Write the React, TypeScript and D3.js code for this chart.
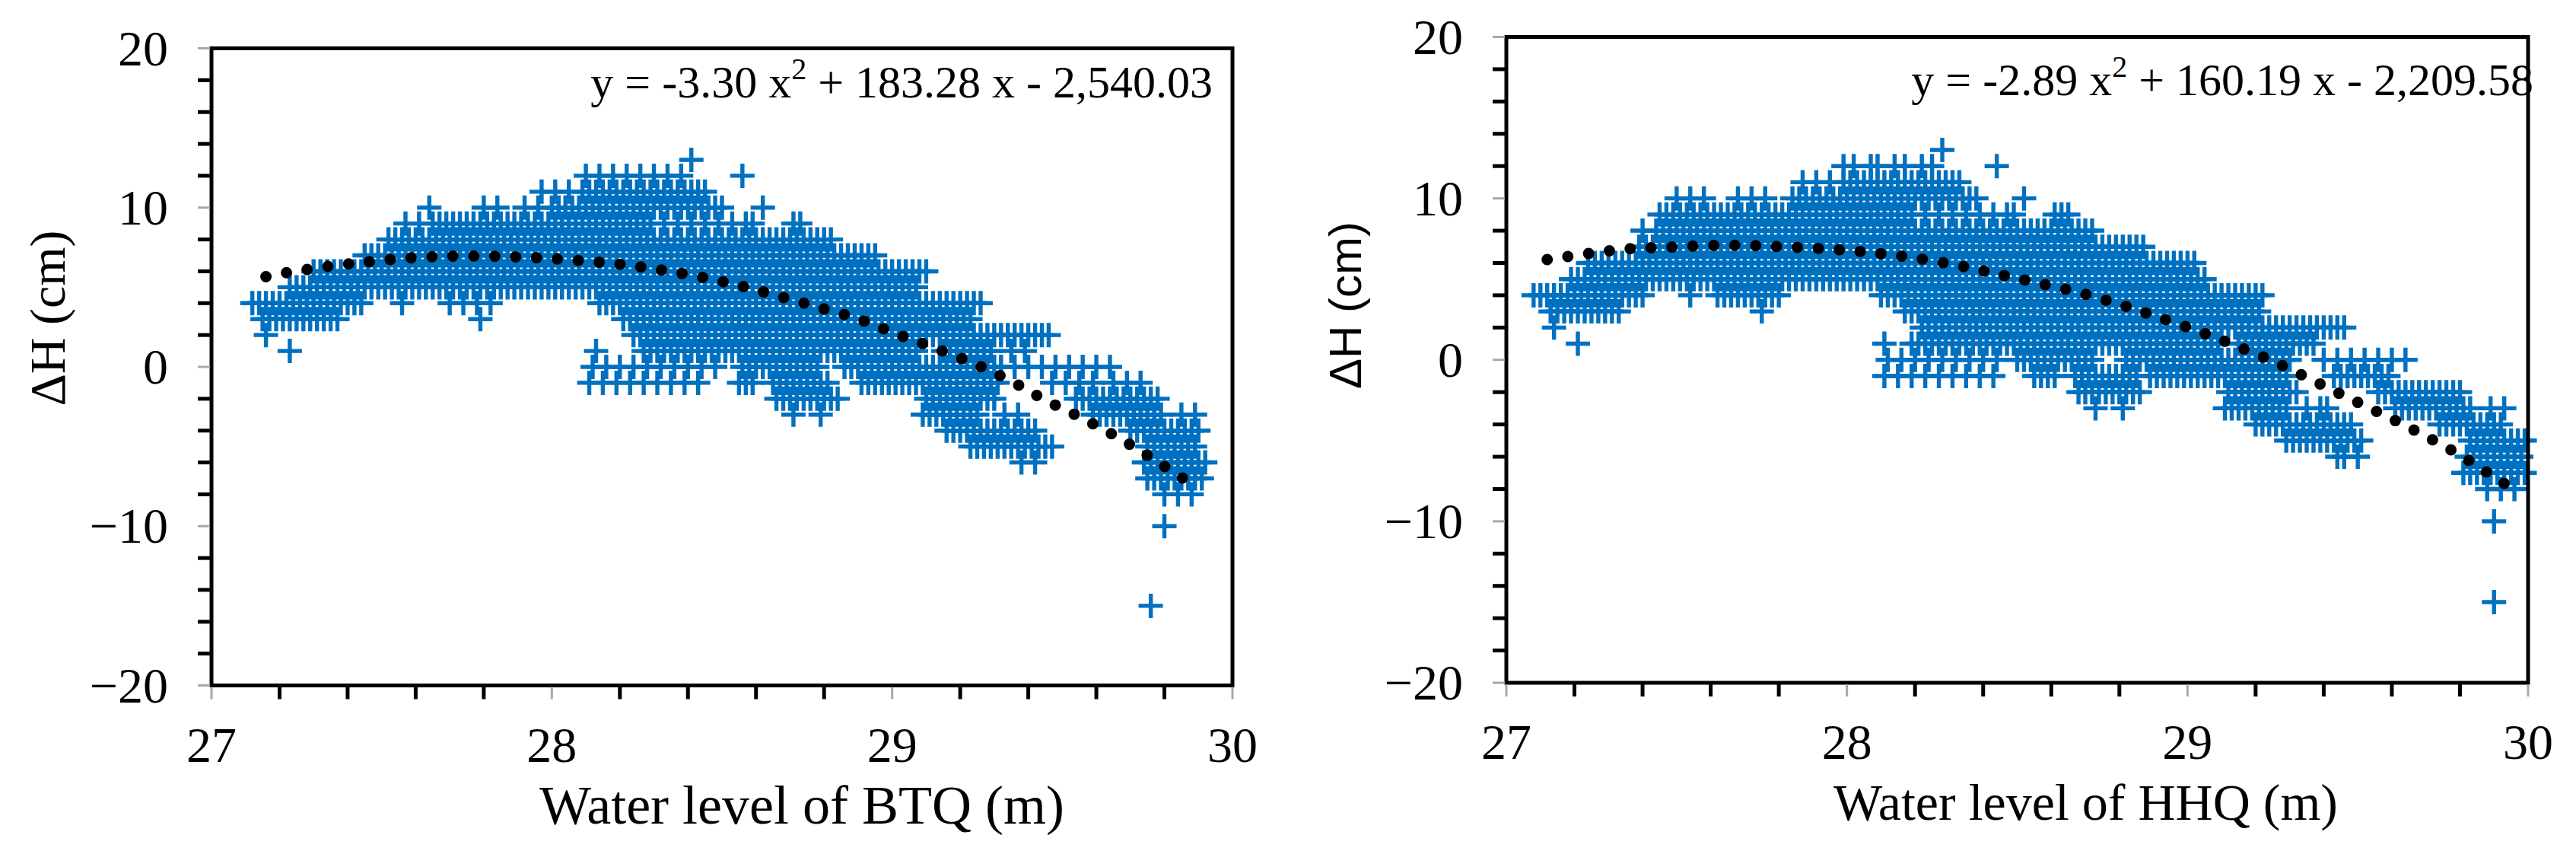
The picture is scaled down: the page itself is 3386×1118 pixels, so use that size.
import React from "react";
import * as d3 from "d3";

const BLUE = "#0070C0";
const SERIF = "'Liberation Serif', 'Times New Roman', serif";
const SANS = "'Liberation Sans', Arial, sans-serif";

// Scatter rows: [ΔH (cm), water levels in hundredths of a metre above 27 m]
const btqRows: [number, number[]][] = [
  [13, [141]],
  [12, [110, 114, 118, 122, 126, 130, 134, 138, 156]],
  [11, [97, 101, 105, 109, 111, 113, 115, 117, 119, 121, 123, 125, 127, 129, 131, 133, 135, 137, 139, 141, 143, 145]],
  [10, [64, 80, 84, 92, 96, 100, 102, 104, 106, 108, 110, 112, 114, 116, 118, 120, 122, 124, 126, 128, 130, 132, 134, 136, 138, 140, 142, 144, 146, 148, 150, 162]],
  [9, [57, 61, 65, 67, 69, 71, 73, 75, 77, 79, 81, 83, 85, 87, 89, 91, 93, 95, 97, 99, 101, 103, 105, 107, 109, 111, 113, 115, 117, 119, 121, 123, 125, 127, 129, 133, 137, 141, 145, 149, 153, 157, 159, 171, 173]],
  [8, [52, 54, 56, 58, 60, 62, 64, 66, 68, 70, 72, 74, 76, 78, 80, 82, 84, 86, 88, 90, 92, 94, 96, 98, 100, 102, 104, 106, 108, 110, 112, 114, 116, 118, 120, 122, 124, 126, 128, 130, 132, 134, 136, 138, 140, 142, 144, 146, 148, 150, 152, 154, 156, 158, 160, 162, 164, 166, 168, 170, 172, 174, 176, 178, 180, 182]],
  [7, [45, 47, 49, 51, 53, 55, 57, 59, 61, 63, 65, 67, 69, 71, 73, 75, 77, 79, 81, 83, 85, 87, 89, 91, 93, 95, 97, 99, 101, 103, 105, 107, 109, 111, 113, 115, 117, 119, 121, 123, 125, 127, 129, 131, 133, 135, 137, 139, 141, 143, 145, 147, 149, 151, 153, 155, 157, 159, 161, 163, 165, 167, 169, 171, 173, 175, 177, 179, 181, 183, 185, 187, 189, 191, 193, 195]],
  [6, [30, 32, 34, 36, 38, 40, 42, 44, 46, 48, 50, 52, 54, 56, 58, 60, 62, 64, 66, 68, 70, 72, 74, 76, 78, 80, 82, 84, 86, 88, 90, 92, 94, 96, 98, 100, 102, 104, 106, 108, 110, 112, 114, 116, 118, 120, 122, 124, 126, 128, 130, 132, 134, 136, 138, 140, 142, 144, 146, 148, 150, 152, 154, 156, 158, 160, 162, 164, 166, 168, 170, 172, 174, 176, 178, 180, 182, 184, 186, 188, 190, 192, 194, 196, 198, 200, 202, 204, 206, 208, 210]],
  [5, [23, 25, 27, 29, 31, 33, 35, 37, 39, 41, 43, 45, 47, 49, 51, 53, 55, 57, 59, 61, 63, 65, 67, 69, 71, 73, 75, 77, 79, 81, 83, 85, 87, 89, 91, 93, 95, 97, 99, 101, 103, 105, 107, 109, 111, 113, 115, 117, 119, 121, 123, 125, 127, 129, 131, 133, 135, 137, 139, 141, 143, 145, 147, 149, 151, 153, 155, 157, 159, 161, 163, 165, 167, 169, 171, 173, 175, 177, 179, 181, 183, 185, 187, 189, 191, 193, 195, 197, 199, 201, 203, 205, 207]],
  [4, [12, 14, 16, 18, 20, 22, 24, 26, 28, 30, 32, 34, 36, 38, 40, 42, 44, 56, 70, 74, 78, 82, 114, 116, 118, 120, 122, 124, 126, 128, 130, 132, 134, 136, 138, 140, 142, 144, 146, 148, 150, 152, 154, 156, 158, 160, 162, 164, 166, 168, 170, 172, 174, 176, 178, 180, 182, 184, 186, 188, 190, 192, 194, 196, 198, 200, 202, 204, 206, 208, 210, 212, 214, 216, 218, 220, 222, 224, 226]],
  [3, [15, 17, 19, 21, 23, 25, 27, 29, 31, 33, 35, 37, 79, 121, 123, 125, 127, 129, 131, 133, 135, 137, 139, 141, 143, 145, 147, 149, 151, 153, 155, 157, 159, 161, 163, 165, 167, 169, 171, 173, 175, 177, 179, 181, 183, 185, 187, 189, 191, 193, 195, 197, 199, 201, 203, 205, 207, 209, 211, 213, 215, 217, 219, 221, 223]],
  [2, [16, 124, 126, 128, 130, 132, 134, 136, 138, 140, 142, 144, 146, 148, 150, 152, 154, 156, 158, 160, 162, 164, 166, 168, 170, 172, 174, 176, 178, 180, 182, 184, 186, 188, 190, 192, 194, 196, 198, 200, 202, 204, 206, 208, 210, 212, 214, 216, 218, 220, 222, 224, 226, 228, 230, 232, 234, 236, 238, 240, 242, 244, 246]],
  [1, [23, 113, 127, 129, 131, 133, 135, 137, 139, 141, 143, 145, 147, 149, 151, 153, 155, 157, 159, 161, 163, 165, 167, 169, 171, 173, 175, 177, 179, 181, 183, 185, 187, 189, 191, 193, 195, 197, 199, 201, 203, 205, 207, 215, 217, 219, 221, 223, 225, 227, 229, 235, 239]],
  [0, [112, 116, 120, 124, 128, 132, 136, 140, 144, 148, 156, 158, 160, 162, 164, 166, 168, 170, 172, 174, 176, 178, 186, 188, 190, 192, 194, 196, 198, 200, 202, 204, 206, 208, 210, 212, 214, 216, 218, 220, 222, 224, 226, 228, 230, 232, 236, 240, 244, 248, 252, 256, 260, 264]],
  [-1, [111, 115, 119, 123, 127, 131, 135, 139, 143, 155, 157, 159, 165, 167, 169, 171, 173, 175, 177, 179, 181, 191, 193, 195, 197, 199, 201, 203, 205, 207, 209, 211, 213, 215, 217, 219, 221, 223, 225, 227, 229, 231, 247, 251, 255, 259, 265, 269, 273]],
  [-2, [166, 168, 170, 172, 174, 176, 178, 180, 182, 184, 210, 212, 214, 216, 218, 220, 222, 224, 226, 228, 230, 254, 256, 258, 260, 262, 264, 266, 268, 270, 272, 274, 276, 278]],
  [-3, [171, 179, 209, 211, 213, 215, 217, 219, 221, 223, 225, 233, 237, 259, 261, 263, 265, 267, 269, 271, 273, 275, 277, 279, 285, 289]],
  [-4, [216, 218, 220, 222, 224, 226, 228, 230, 232, 234, 236, 238, 240, 242, 270, 272, 274, 276, 278, 280, 282, 284, 286, 288, 290]],
  [-5, [223, 225, 227, 229, 231, 233, 235, 237, 239, 241, 243, 245, 247, 275, 277, 279, 281, 283, 285, 287, 289]],
  [-6, [238, 242, 274, 276, 278, 280, 282, 284, 286, 288, 290, 292]],
  [-7, [275, 277, 279, 281, 283, 285, 287, 289, 291]],
  [-8, [280, 284, 288]],
  [-10, [280]],
  [-15, [276]],
];

const hhqRows: [number, number[]][] = [
  [13, [128]],
  [12, [99, 102, 107, 109, 114, 117, 122, 125, 144]],
  [11, [87, 91, 95, 99, 101, 103, 105, 107, 109, 111, 113, 115, 117, 119, 121, 123, 125, 127, 129, 131, 133]],
  [10, [50, 54, 58, 68, 72, 76, 84, 86, 88, 90, 92, 94, 96, 98, 100, 102, 104, 106, 108, 110, 112, 114, 116, 118, 120, 122, 124, 126, 128, 130, 132, 134, 136, 138, 152]],
  [9, [45, 47, 49, 51, 53, 55, 57, 59, 61, 63, 65, 67, 69, 71, 73, 75, 77, 79, 81, 83, 85, 87, 89, 91, 93, 95, 97, 99, 101, 103, 105, 107, 109, 111, 113, 115, 117, 119, 123, 127, 131, 135, 139, 143, 147, 149, 161, 163, 165]],
  [8, [40, 44, 46, 48, 50, 52, 54, 56, 58, 60, 62, 64, 66, 68, 70, 72, 74, 76, 78, 80, 82, 84, 86, 88, 90, 92, 94, 96, 98, 100, 102, 104, 106, 108, 110, 112, 114, 116, 118, 120, 122, 124, 126, 128, 130, 132, 134, 136, 138, 140, 142, 144, 146, 148, 150, 152, 154, 156, 158, 160, 162, 164, 166, 168, 170, 172]],
  [7, [39, 41, 43, 45, 47, 49, 51, 53, 55, 57, 59, 61, 63, 65, 67, 69, 71, 73, 75, 77, 79, 81, 83, 85, 87, 89, 91, 93, 95, 97, 99, 101, 103, 105, 107, 109, 111, 113, 115, 117, 119, 121, 123, 125, 127, 129, 131, 133, 135, 137, 139, 141, 143, 145, 147, 149, 151, 153, 155, 157, 159, 161, 163, 165, 167, 169, 171, 173, 175, 177, 179, 181, 183, 185, 187]],
  [6, [24, 26, 28, 30, 32, 34, 36, 38, 40, 42, 44, 46, 48, 50, 52, 54, 56, 58, 60, 62, 64, 66, 68, 70, 72, 74, 76, 78, 80, 82, 84, 86, 88, 90, 92, 94, 96, 98, 100, 102, 104, 106, 108, 110, 112, 114, 116, 118, 120, 122, 124, 126, 128, 130, 132, 134, 136, 138, 140, 142, 144, 146, 148, 150, 152, 154, 156, 158, 160, 162, 164, 166, 168, 170, 172, 174, 176, 178, 180, 182, 184, 186, 188, 190, 192, 194, 196, 198, 200, 202]],
  [5, [19, 21, 23, 25, 27, 29, 31, 33, 35, 37, 39, 41, 43, 45, 47, 49, 51, 53, 55, 57, 59, 61, 63, 65, 67, 69, 71, 73, 75, 77, 79, 81, 83, 85, 87, 89, 91, 93, 95, 97, 99, 101, 103, 105, 107, 109, 111, 113, 115, 117, 119, 121, 123, 125, 127, 129, 131, 133, 135, 137, 139, 141, 143, 145, 147, 149, 151, 153, 155, 157, 159, 161, 163, 165, 167, 169, 171, 173, 175, 177, 179, 181, 183, 185, 187, 189, 191, 193, 195, 197, 199, 201, 203, 205]],
  [4, [8, 10, 12, 14, 16, 18, 20, 22, 24, 26, 28, 30, 32, 34, 36, 38, 40, 54, 62, 64, 66, 68, 70, 72, 74, 76, 78, 80, 110, 112, 114, 116, 118, 120, 122, 124, 126, 128, 130, 132, 134, 136, 138, 140, 142, 144, 146, 148, 150, 152, 154, 156, 158, 160, 162, 164, 166, 168, 170, 172, 174, 176, 178, 180, 182, 184, 186, 188, 190, 192, 194, 196, 198, 200, 202, 204, 206, 208, 210, 212, 214, 216, 218, 220, 222]],
  [3, [13, 15, 17, 19, 21, 23, 25, 27, 29, 31, 33, 75, 117, 119, 121, 123, 125, 127, 129, 131, 133, 135, 137, 139, 141, 143, 145, 147, 149, 151, 153, 155, 157, 159, 161, 163, 165, 167, 169, 171, 173, 175, 177, 179, 181, 183, 185, 187, 189, 191, 193, 195, 197, 199, 201, 203, 205, 207, 209, 211, 213, 215, 217, 219, 221]],
  [2, [14, 122, 124, 126, 128, 130, 132, 134, 136, 138, 140, 142, 144, 146, 148, 150, 152, 154, 156, 158, 160, 162, 164, 166, 168, 170, 172, 174, 176, 178, 180, 182, 184, 186, 188, 190, 192, 194, 196, 198, 200, 202, 204, 206, 208, 210, 212, 214, 216, 218, 220, 222, 224, 226, 228, 230, 232, 234, 236, 238, 240, 242, 244, 246]],
  [1, [21, 111, 119, 121, 123, 125, 127, 129, 131, 133, 135, 137, 139, 141, 143, 145, 147, 149, 151, 153, 155, 157, 159, 161, 163, 165, 167, 169, 171, 173, 175, 177, 179, 181, 183, 185, 187, 189, 191, 193, 195, 197, 199, 201, 203, 205, 207, 209, 215, 217, 219, 221, 223, 225, 227, 229, 231, 233, 235, 237]],
  [0, [112, 116, 120, 124, 128, 132, 136, 140, 144, 150, 152, 154, 156, 158, 160, 162, 164, 166, 168, 170, 172, 182, 184, 186, 188, 190, 192, 194, 196, 198, 200, 202, 204, 206, 208, 210, 212, 214, 216, 218, 220, 222, 224, 226, 228, 230, 240, 244, 248, 252, 256, 260, 264]],
  [-1, [111, 115, 119, 123, 127, 131, 135, 139, 143, 155, 157, 159, 161, 167, 169, 171, 173, 175, 177, 179, 181, 183, 185, 189, 191, 193, 195, 197, 199, 201, 203, 205, 207, 209, 211, 213, 215, 217, 219, 221, 223, 225, 227, 229, 243, 245, 247, 249, 251, 253, 255, 257, 259]],
  [-2, [168, 170, 172, 174, 176, 178, 180, 182, 184, 186, 212, 214, 216, 218, 220, 222, 224, 226, 228, 230, 232, 256, 258, 260, 262, 264, 266, 268, 270, 272, 274, 276, 278, 280]],
  [-3, [173, 181, 211, 213, 215, 217, 219, 221, 223, 225, 227, 229, 235, 239, 241, 261, 263, 265, 267, 269, 271, 273, 275, 277, 279, 281, 283, 289, 293]],
  [-4, [220, 222, 224, 226, 228, 230, 232, 234, 236, 238, 240, 242, 244, 246, 248, 274, 276, 278, 280, 282, 284, 286, 288, 290, 292]],
  [-5, [229, 231, 233, 235, 237, 239, 241, 243, 245, 247, 249, 251, 283, 285, 287, 289, 291, 293, 295, 297, 299]],
  [-6, [244, 246, 250, 282, 284, 286, 288, 290, 292, 294, 296, 298]],
  [-7, [281, 283, 285, 287, 289, 291, 293, 295, 297, 299]],
  [-8, [288, 292, 296]],
  [-10, [290]],
  [-15, [290]],
];

// Polynomial trendlines: [water level (m), ΔH (cm)]
const btqTrend: [number, number][] = [
  [27.16, 5.66], [27.22, 5.91], [27.34, 6.3], [27.46, 6.6], [27.58, 6.84], [27.7, 6.95],
  [27.82, 6.95], [27.94, 6.87], [28.06, 6.71], [28.19, 6.47], [28.31, 6.12], [28.43, 5.67],
  [28.55, 5.11], [28.66, 4.48], [28.78, 3.76], [28.9, 3.01], [29.01, 2.09], [29.12, 1.22],
  [29.24, 0.21], [29.35, -0.9], [29.45, -2.08], [29.56, -3.24], [29.67, -4.51], [29.77, -5.83],
  [29.87, -7.22],
];

const hhqTrend: [number, number][] = [
  [27.12, 6.21], [27.24, 6.58], [27.36, 6.88], [27.48, 6.98], [27.6, 7.08], [27.72, 7.08],
  [27.84, 6.98], [27.97, 6.83], [28.09, 6.6], [28.21, 6.27], [28.33, 5.83], [28.44, 5.33],
  [28.56, 4.76], [28.68, 4.18], [28.8, 3.44], [28.91, 2.67], [29.03, 1.79], [29.14, 0.89],
  [29.25, -0.08], [29.36, -1.19], [29.47, -2.33], [29.58, -3.45], [29.69, -4.62], [29.8, -5.9],
  [29.9, -7.25], [29.95, -7.92],
];

const xMajor = [27, 28, 29, 30];
const xMinor = [27.2, 27.4, 27.6, 27.8, 28.2, 28.4, 28.6, 28.8, 29.2, 29.4, 29.6, 29.8];
const yMajor = [-20, -10, 0, 10, 20];
const yMinor = [-18, -16, -14, -12, -8, -6, -4, -2, 2, 4, 6, 8, 12, 14, 16, 18];

interface PanelProps {
  rows: [number, number[]][];
  trend: [number, number][];
  eq: [string, string, string];
  title: string;
  left: number;
  right: number;
  top: number;
  bottom: number;
  eqX: number;
  eqY: number;
  titleX: number;
  titleY: number;
  titleSize: number;
  yLabelX: number;
  yLabelY: number;
  yLabelFont: string;
  yLabelSize: number;
}

const plus = "M-16,0H16M0,-16V16";

const Panel: React.FC<PanelProps> = (p) => {
  const x = d3.scaleLinear().domain([27, 30]).range([p.left, p.right]);
  const y = d3.scaleLinear().domain([-20, 20]).range([p.bottom, p.top]);

  const line = d3
    .line<[number, number]>()
    .x((d) => x(d[0]))
    .y((d) => y(d[1]))
    .curve(d3.curveCatmullRom);

  const fmt = (v: number) => (v < 0 ? "\u2212" + Math.abs(v) : String(v));

  return (
    <g>
      {/* scatter */}
      <g stroke={BLUE} strokeWidth={5.4} fill="none">
        {p.rows.map(([dh, xs]) =>
          xs.map((h, i) => (
            <path
              key={`${dh}-${i}`}
              d={plus}
              transform={`translate(${x(27 + h / 100)},${y(dh)})`}
            />
          ))
        )}
      </g>

      {/* trendline */}
      <path
        d={line(p.trend) || ""}
        fill="none"
        stroke="#000"
        strokeWidth={15}
        strokeLinecap="round"
        strokeDasharray="0 27.5"
      />

      {/* frame */}
      <rect
        x={p.left}
        y={p.top}
        width={p.right - p.left}
        height={p.bottom - p.top}
        fill="none"
        stroke="#000"
        strokeWidth={5}
      />

      {/* y ticks */}
      {yMinor.map((v) => (
        <line key={`ym${v}`} x1={p.left - 18} x2={p.left} y1={y(v)} y2={y(v)} stroke="#000" strokeWidth={5} />
      ))}
      {yMajor.map((v) => (
        <line key={`yM${v}`} x1={p.left - 18} x2={p.left - 2} y1={y(v)} y2={y(v)} stroke="#a8a8a8" strokeWidth={3} />
      ))}
      {yMajor.map((v) => (
        <text
          key={`yl${v}`}
          x={p.left - 57}
          y={y(v) + 22}
          textAnchor="end"
          fontFamily={SERIF}
          fontSize={66}
        >
          {fmt(v)}
        </text>
      ))}

      {/* x ticks */}
      {xMinor.map((v) => (
        <line key={`xm${v}`} x1={x(v)} x2={x(v)} y1={p.bottom} y2={p.bottom + 18} stroke="#000" strokeWidth={5} />
      ))}
      {xMajor.map((v) => (
        <line key={`xM${v}`} x1={x(v)} x2={x(v)} y1={p.bottom + 2} y2={p.bottom + 18} stroke="#a8a8a8" strokeWidth={3} />
      ))}
      {xMajor.map((v) => (
        <text
          key={`xl${v}`}
          x={x(v)}
          y={p.bottom + 100}
          textAnchor="middle"
          fontFamily={SERIF}
          fontSize={66}
        >
          {fmt(v)}
        </text>
      ))}

      {/* equation */}
      <text x={p.eqX} y={p.eqY} textAnchor="end" fontFamily={SERIF} fontSize={60}>
        {p.eq[0]}
        <tspan dy={-24} fontSize={40}>
          {p.eq[1]}
        </tspan>
        <tspan dy={24}>{p.eq[2]}</tspan>
      </text>

      {/* axis titles */}
      <text x={p.titleX} y={p.titleY} fontFamily={SERIF} fontSize={p.titleSize}>
        {p.title}
      </text>
      <text
        transform={`translate(${p.yLabelX},${p.yLabelY}) rotate(-90)`}
        textAnchor="middle"
        dominantBaseline="central"
        fontFamily={p.yLabelFont}
        fontSize={p.yLabelSize}
      >
        ΔH (cm)
      </text>
    </g>
  );
};

export default function App() {
  return (
    <svg
      width={3386}
      height={1118}
      style={{ position: "absolute", left: 0, top: 0, background: "#fff" }}
    >
      <rect width={3386} height={1118} fill="#fff" />
      <Panel
        rows={btqRows}
        trend={btqTrend}
        eq={["y = -3.30 x", "2", " + 183.28 x - 2,540.03"]}
        title="Water level of BTQ (m)"
        left={278}
        right={1620}
        top={63.5}
        bottom={900.5}
        eqX={1594}
        eqY={128}
        titleX={709}
        titleY={1082}
        titleSize={72}
        yLabelX={62}
        yLabelY={418}
        yLabelFont={SERIF}
        yLabelSize={66}
      />
      <Panel
        rows={hhqRows}
        trend={hhqTrend}
        eq={["y = -2.89 x", "2", " + 160.19 x - 2,209.58"]}
        title="Water level of HHQ (m)"
        left={1980}
        right={3323}
        top={48.5}
        bottom={897}
        eqX={3330}
        eqY={125}
        titleX={2410}
        titleY={1077}
        titleSize={68}
        yLabelX={1768}
        yLabelY={401}
        yLabelFont={SANS}
        yLabelSize={60}
      />
    </svg>
  );
}
